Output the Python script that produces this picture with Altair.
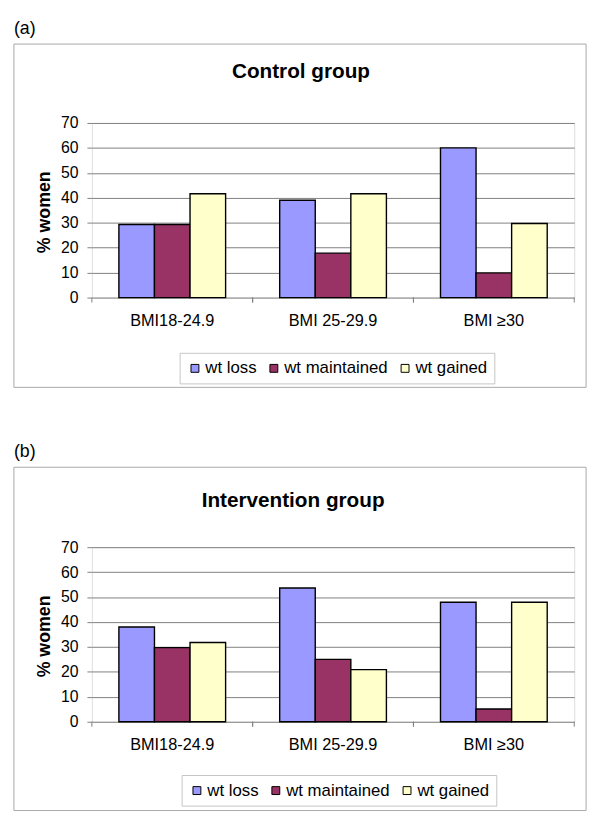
import altair as alt
import pandas as pd

categories = ["BMI18-24.9", "BMI 25-29.9", "BMI \u226530"]
series = ["wt loss", "wt maintained", "wt gained"]
colors = ["#9999FF", "#993366", "#FFFFCC"]

control_loss = [29.3, 39.0, 60.0]
control_maintained = [29.3, 17.8, 9.9]
control_gained = [41.6, 41.6, 29.7]

intervention_loss = [38.0, 53.6, 47.9]
intervention_maintained = [29.7, 25.0, 5.1]
intervention_gained = [31.8, 20.9, 47.9]

y_ticks = [0, 10, 20, 30, 40, 50, 60, 70]

FONT = "Liberation Sans"
W = 489
H = 177


def make_df(loss, maint, gain):
    rows = []
    for s, vals in zip(series, [loss, maint, gain]):
        for c, v in zip(categories, vals):
            rows.append({"bmi": c, "series": s, "pct": v})
    return pd.DataFrame(rows)


def panel(df, label, label_y, title, title_x, title_y, box_top, box_bottom, leg_x, leg_y):
    one = alt.Data(values=[{"k": 1}])
    box = alt.Chart(one).mark_rect(fillOpacity=0, stroke="#a8a8a8", strokeWidth=1).encode(
        x=alt.value(-79), x2=alt.value(501), y=alt.value(box_top), y2=alt.value(box_bottom)
    )
    lab = alt.Chart(one).mark_text(
        text=label, align="left", baseline="alphabetic", fontSize=18, font=FONT, color="black"
    ).encode(x=alt.value(-79), y=alt.value(label_y))
    ttl = alt.Chart(one).mark_text(
        text=title, align="center", baseline="alphabetic", fontSize=21, fontWeight="bold",
        font=FONT, color="black"
    ).encode(x=alt.value(title_x), y=alt.value(title_y))

    bars = alt.Chart(df).mark_bar(stroke="black", strokeWidth=1.4).encode(
        x=alt.X(
            "bmi:N", sort=categories,
            scale=alt.Scale(paddingInner=0, paddingOuter=0),
            axis=alt.Axis(title=None, labelAngle=0, ticks=False, domain=False,
                          labelFontSize=16.5, labelPadding=15, labelColor="black", labelFont=FONT),
        ),
        xOffset=alt.XOffset("series:N", sort=series,
                            scale=alt.Scale(paddingInner=0, paddingOuter=0.76)),
        y=alt.Y(
            "pct:Q", scale=alt.Scale(domain=[0, 70], nice=False, zero=True),
            axis=alt.Axis(values=y_ticks, title="% women", titleFontSize=18, titleFontWeight="bold",
                          titleFont=FONT, titleColor="black", titleX=-48, titleY=90,
                          titleAngle=270, titleBaseline="middle", titleAlign="center",
                          domain=False, tickColor="#808080", tickSize=5, labelPadding=9,
                          labelFontSize=16, labelFont=FONT, labelColor="black",
                          grid=True, gridColor="#808080", gridWidth=1),
        ),
        color=alt.Color(
            "series:N", scale=alt.Scale(domain=series, range=colors),
            legend=alt.Legend(title=None, orient="none", legendX=leg_x, legendY=leg_y,
                              direction="horizontal", columns=3, symbolType="square",
                              symbolSize=64, symbolStrokeColor="black", symbolStrokeWidth=1,
                              symbolOpacity=1, labelFontSize=17, labelFont=FONT,
                              labelColor="black", labelOffset=2, columnPadding=9,
                              padding=7, strokeColor="#c4c4c4", fillColor="white"),
        ),
    )

    tick_df = pd.DataFrame({"bmi": categories})
    t0 = alt.Chart(tick_df).mark_rule(color="#808080", strokeWidth=1).encode(
        x=alt.X("bmi:N", sort=categories, bandPosition=0), y=alt.value(H), y2=alt.value(H + 5)
    )
    t1 = alt.Chart(tick_df).mark_rule(color="#808080", strokeWidth=1).encode(
        x=alt.X("bmi:N", sort=categories, bandPosition=1), y=alt.value(H), y2=alt.value(H + 5)
    )

    return alt.layer(box, lab, ttl, bars, t0, t1).properties(width=W, height=H)


pa = panel(make_df(control_loss, control_maintained, control_gained),
           "(a)", -90, "Control group", 212, -46, -80, 268, 89, 233)
pb = panel(make_df(intervention_loss, intervention_maintained, intervention_gained),
           "(b)", -91, "Intervention group", 204, -41, -81, 267, 91, 231)

chart = alt.vconcat(pa, pb, spacing=55).resolve_scale(
    color="independent"
).resolve_legend(color="independent").properties(
    padding={"left": 5, "top": 6, "right": 5, "bottom": 0},
    background="white",
).configure_view(fill="#C0C0C0", stroke="#808080", strokeWidth=1).configure(font=FONT)

chart.save("out.html", embed_options={"renderer": "svg", "actions": False})
